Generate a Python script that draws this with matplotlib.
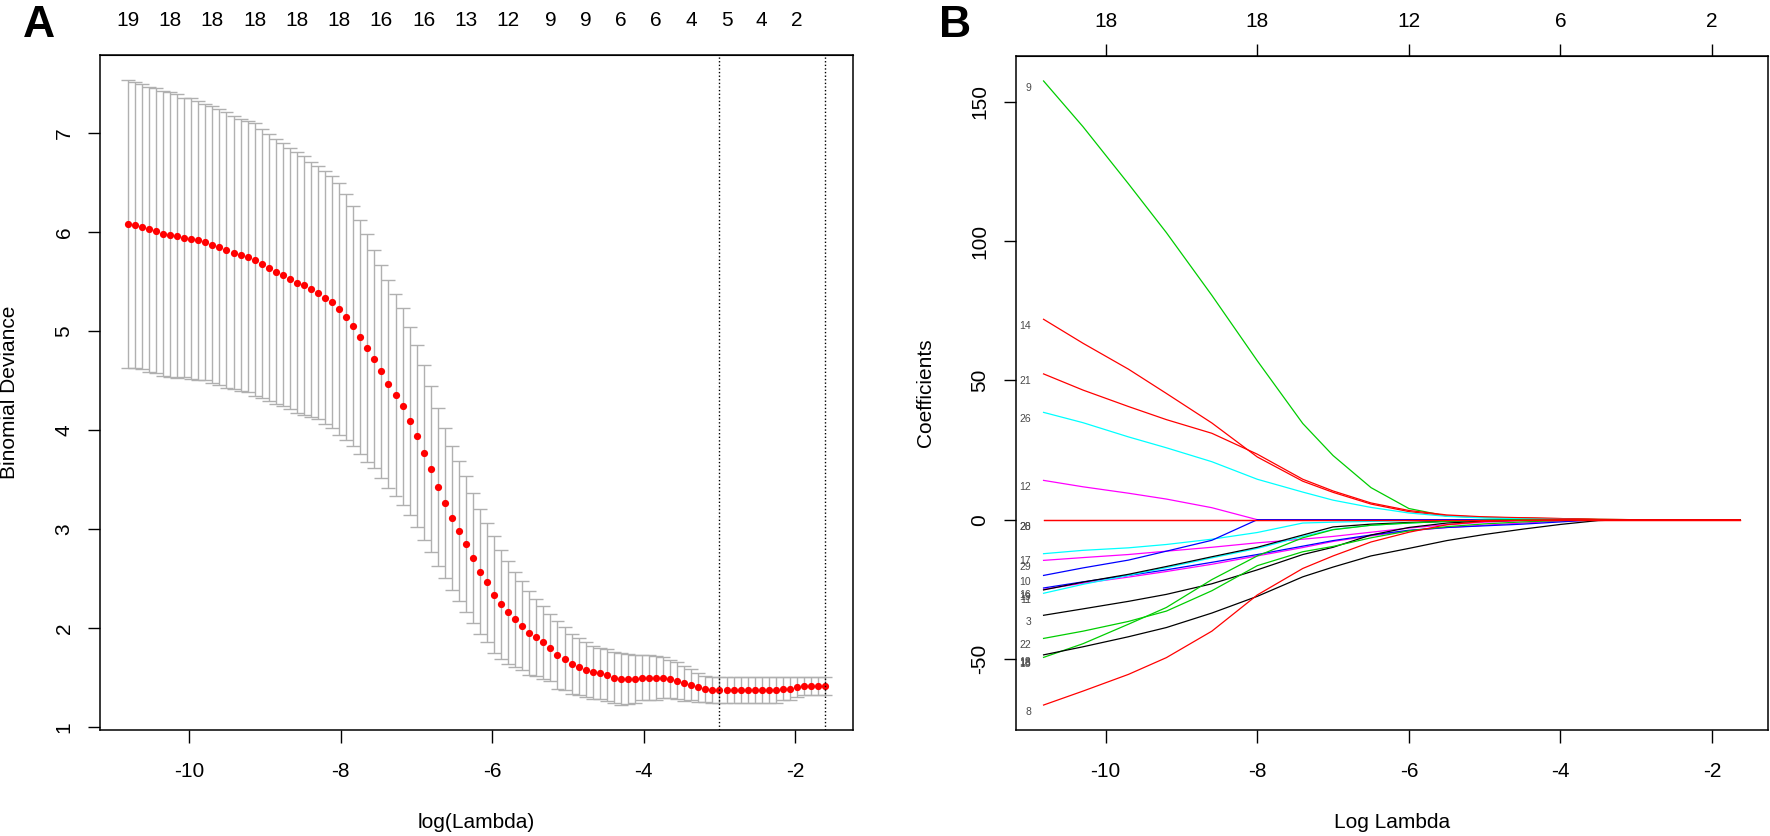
import numpy as np
import matplotlib.pyplot as plt

plt.rcParams['font.family'] = ['Liberation Sans', 'DejaVu Sans']
plt.rcParams['axes.unicode_minus'] = False

# ---- panel A: cross-validated binomial deviance ----
# glmnet lambda grid (100 values, evenly spaced on the log scale)
log_lambda = np.linspace(-10.814, -1.60, 100)

cv_mean = [6.077, 6.067, 6.050, 6.027, 6.010, 5.983, 5.973, 5.956, 5.942, 5.932,
           5.916, 5.899, 5.872, 5.845, 5.818, 5.791, 5.764, 5.751, 5.720, 5.680,
           5.636, 5.596, 5.569, 5.528, 5.488, 5.461, 5.421, 5.387, 5.336, 5.293,
           5.225, 5.141, 5.047, 4.936, 4.828, 4.717, 4.592, 4.468, 4.357, 4.239,
           4.087, 3.936, 3.771, 3.606, 3.424, 3.262, 3.111, 2.983, 2.848, 2.710,
           2.572, 2.464, 2.340, 2.242, 2.161, 2.091, 2.027, 1.956, 1.909, 1.858,
           1.805, 1.734, 1.693, 1.639, 1.612, 1.582, 1.555, 1.545, 1.528, 1.501,
           1.488, 1.488, 1.488, 1.501, 1.501, 1.501, 1.501, 1.488, 1.471, 1.444,
           1.431, 1.404, 1.390, 1.377, 1.377, 1.377, 1.377, 1.377, 1.377, 1.377,
           1.377, 1.377, 1.377, 1.390, 1.390, 1.404, 1.417, 1.417, 1.417, 1.417]

cv_sd = [1.455, 1.441, 1.438, 1.438, 1.437, 1.441, 1.434, 1.434, 1.411, 1.415,
         1.407, 1.390, 1.397, 1.391, 1.394, 1.380, 1.370, 1.370, 1.381, 1.353,
         1.347, 1.336, 1.323, 1.320, 1.313, 1.307, 1.286, 1.276, 1.276, 1.269,
         1.270, 1.239, 1.212, 1.181, 1.155, 1.097, 1.071, 1.050, 1.020, 0.993,
         0.949, 0.919, 0.882, 0.835, 0.798, 0.758, 0.727, 0.704, 0.687, 0.657,
         0.633, 0.603, 0.592, 0.552, 0.522, 0.481, 0.448, 0.424, 0.387, 0.370,
         0.339, 0.343, 0.317, 0.303, 0.290, 0.276, 0.269, 0.259, 0.263, 0.256,
         0.262, 0.249, 0.242, 0.229, 0.229, 0.222, 0.206, 0.195, 0.186, 0.178,
         0.158, 0.144, 0.131, 0.128, 0.128, 0.128, 0.128, 0.128, 0.128, 0.128,
         0.128, 0.128, 0.128, 0.115, 0.115, 0.101, 0.088, 0.088, 0.088, 0.088]

# number of nonzero coefficients shown on top (only non-overlapping ones)
top_idx = [0, 6, 12, 18, 24, 30, 36, 42, 48, 54, 60, 65, 70, 75, 80, 85, 90, 95]
top_nzero = [19, 18, 18, 18, 18, 18, 16, 16, 13, 12, 9, 9, 6, 6, 4, 5, 4, 2]

lambda_min_log = -3.00
lambda_1se_log = -1.60

# ---- panel B: coefficient paths ----
xb = [-10.82, -10.3, -9.7, -9.2, -8.6, -8.0, -7.4, -7.0, -6.5, -6.0,
      -5.5, -5.0, -4.5, -4.0, -3.5, -3.0, -2.5, -2.0, -1.63]

coef_9 = [157.4, 141.0, 120.5, 103.0, 80.5, 57.0, 34.5, 23.0, 11.5, 4.0, 1.3, 0.8, 0.5, 0.3, 0.1, 0, 0, 0, 0]
coef_14 = [71.9, 63.3, 54.0, 45.3, 34.7, 22.5, 13.8, 9.8, 5.6, 2.9, 1.4, 0.9, 0.6, 0.4, 0.1, 0, 0, 0, 0]
coef_21 = [52.3, 46.5, 40.6, 35.9, 31.0, 23.5, 14.5, 10.3, 6.0, 3.3, 1.7, 1.0, 0.7, 0.4, 0.1, 0, 0, 0, 0]
coef_26 = [38.5, 34.8, 29.7, 25.8, 20.8, 14.5, 9.9, 7.0, 4.4, 2.4, 1.2, 0.6, 0.3, 0.1, 0, 0, 0, 0, 0]
coef_12 = [14.1, 11.8, 9.5, 7.4, 4.3, 0, 0, 0, 0, 0, 0, 0, 0, 0, 0, 0, 0, 0, 0]
coef_17 = [-12.2, -11.0, -10.1, -8.9, -7.0, -4.6, -1.2, -0.9, -0.6, -0.3, -0.1, 0, 0, 0, 0, 0, 0, 0, 0]
coef_29 = [-14.6, -13.6, -12.5, -11.3, -9.9, -8.3, -7.0, -6.0, -4.5, -3.0, -1.8, -0.9, -0.3, 0, 0, 0, 0, 0, 0]
coef_10 = [-20.0, -17.3, -14.5, -11.3, -7.4, 0, 0, 0, 0, 0, 0, 0, 0, 0, 0, 0, 0, 0, 0]
coef_16 = [-24.5, -22.3, -20.0, -18.0, -15.3, -12.5, -9.5, -7.5, -5.5, -3.8, -2.8, -2.2, -1.6, -0.8, 0, 0, 0, 0, 0]
coef_19 = [-25.2, -22.4, -19.6, -16.8, -13.3, -9.9, -5.5, -2.6, -1.6, -1.0, -0.6, -0.3, 0, 0, 0, 0, 0, 0, 0]
coef_11 = [-26.4, -23.2, -20.0, -17.2, -13.7, -10.3, -6.0, -3.5, -2.0, -1.2, -0.6, -0.2, 0, 0, 0, 0, 0, 0, 0]
coef_5 = [-25.0, -22.8, -20.6, -18.6, -16.0, -13.0, -10.0, -7.8, -5.8, -4.0, -2.8, -2.0, -1.2, -0.5, 0, 0, 0, 0, 0]
coef_3 = [-34.3, -32.0, -29.3, -26.8, -23.0, -18.0, -12.5, -9.9, -5.5, -2.8, -1.2, -0.5, -0.2, 0, 0, 0, 0, 0, 0]
coef_22 = [-42.6, -40.0, -36.5, -32.8, -25.5, -16.5, -11.5, -9.6, -6.5, -4.0, -2.5, -1.5, -0.8, -0.3, 0, 0, 0, 0, 0]
coef_15 = [-49.4, -44.5, -37.5, -31.5, -21.5, -13.0, -6.5, -3.6, -2.0, -1.2, -0.6, -0.2, 0, 0, 0, 0, 0, 0, 0]
coef_13 = [-48.5, -45.6, -42.0, -38.7, -33.5, -27.5, -20.5, -17.0, -13.0, -10.3, -7.5, -5.3, -3.4, -1.7, -0.3, 0, 0, 0, 0]
coef_8 = [-66.5, -61.5, -55.5, -49.5, -40.0, -27.0, -17.5, -13.0, -8.0, -4.5, -1.8, -0.6, -0.2, 0, 0, 0, 0, 0, 0]
coef_28 = [0] * 19
coef_20 = [0] * 19

# labels that sit on top of another path's start value
extra_labels = ['18']
extra_values = [-48.9]

b_top_ticks = [-10, -8, -6, -4, -2]
b_top_labels = ['18', '18', '12', '6', '2']

GREEN = '#00CD00'
# drawing order as in matplot: the all-zero red path ends up on top
paths = [
    ('28', 'red', coef_28), ('9', GREEN, coef_9), ('14', 'red', coef_14),
    ('21', 'red', coef_21), ('26', 'cyan', coef_26), ('12', 'magenta', coef_12),
    ('17', 'cyan', coef_17), ('29', 'magenta', coef_29), ('10', 'blue', coef_10),
    ('', 'magenta', coef_5), ('16', 'blue', coef_16), ('11', 'cyan', coef_11),
    ('19', 'black', coef_19), ('3', 'black', coef_3), ('22', GREEN, coef_22),
    ('15', GREEN, coef_15), ('13', 'black', coef_13), ('8', 'red', coef_8),
    ('20', 'red', coef_20),
]

W, H = 1770, 836
fig = plt.figure(figsize=(W / 100, H / 100), dpi=100)


def px_axes(left, top, right, bottom):
    return fig.add_axes([left / W, 1 - bottom / H, (right - left) / W, (bottom - top) / H])


def r_range(lo, hi):
    pad = 0.04 * (hi - lo)
    return lo - pad, hi + pad


def style(ax):
    for s in ax.spines.values():
        s.set_linewidth(1.1)
    ax.tick_params(axis='both', direction='out', length=9, width=1.0, labelsize=15)
    ax.tick_params(axis='x', pad=14)
    ax.tick_params(axis='y', pad=10, labelrotation=90)
    for lab in ax.get_yticklabels():
        lab.set_va('center')


# ---- draw A ----
axA = px_axes(100, 55, 853, 730)
x = log_lambda
m = np.array(cv_mean)
sd = np.array(cv_sd)
up, lo = m + sd, m - sd
barw = 0.01 * (x.max() - x.min())
bar_col = '#B0B0B0'
axA.vlines(x, lo, up, color=bar_col, lw=1.0)
axA.hlines(up, x - barw, x + barw, color=bar_col, lw=1.0)
axA.hlines(lo, x - barw, x + barw, color=bar_col, lw=1.0)
axA.plot(x, m, 'o', color='red', ms=5.2, mec='none')
axA.axvline(lambda_min_log, color='black', ls=(0, (1, 1.6)), lw=1.0)
axA.axvline(lambda_1se_log, color='black', ls=(0, (1, 1.6)), lw=1.0)
axA.set_xlim(*r_range(x.min(), x.max()))
axA.set_ylim(*r_range(lo.min(), up.max()))
axA.set_xticks([-10, -8, -6, -4, -2])
axA.set_yticks([1, 2, 3, 4, 5, 6, 7])
style(axA)
secA = axA.secondary_xaxis('top')
secA.set_xticks(x[top_idx], labels=[str(v) for v in top_nzero])
secA.tick_params(length=0, pad=18, labelsize=15)

# ---- draw B ----
axB = px_axes(1015.7, 56, 1768, 730)
xb_arr = np.array(xb)
all_vals = []
for lab, col, vals in paths:
    axB.plot(xb_arr, vals, color=col, lw=0.9)
    all_vals.extend(vals)
    if lab:
        axB.annotate(lab, (xb_arr[0], vals[0]), xytext=(-9, -5), textcoords='offset points',
                     ha='right', va='center', fontsize=7.5, color='#4a4a4a')
for lab, v in zip(extra_labels, extra_values):
    axB.annotate(lab, (xb_arr[0], v), xytext=(-9, -5), textcoords='offset points',
                 ha='right', va='center', fontsize=7.5, color='#4a4a4a')
axB.set_xlim(*r_range(xb_arr.min(), xb_arr.max()))
axB.set_ylim(*r_range(min(all_vals), max(all_vals)))
axB.set_xticks([-10, -8, -6, -4, -2])
axB.set_yticks([-50, 0, 50, 100, 150])
style(axB)
secB = axB.secondary_xaxis('top')
secB.set_xticks(b_top_ticks, labels=b_top_labels)
secB.tick_params(direction='out', length=9, width=1.0, pad=9, labelsize=15)

# ---- titles and panel letters ----
fig.text(10 / W, 1 - 392 / H, 'Binomial Deviance', rotation=90, ha='center', va='center', fontsize=15)
fig.text(476 / W, 1 - 823 / H, 'log(Lambda)', ha='center', va='center', fontsize=15)
fig.text(925 / W, 1 - 393 / H, 'Coefficients', rotation=90, ha='center', va='center', fontsize=15)
fig.text(1392 / W, 1 - 823 / H, 'Log Lambda', ha='center', va='center', fontsize=15)
fig.text(39 / W, 1 - 37 / H, 'A', ha='center', va='baseline', fontsize=32, fontweight='bold')
fig.text(955 / W, 1 - 37 / H, 'B', ha='center', va='baseline', fontsize=32, fontweight='bold')

fig.savefig('out.png', dpi=100)
